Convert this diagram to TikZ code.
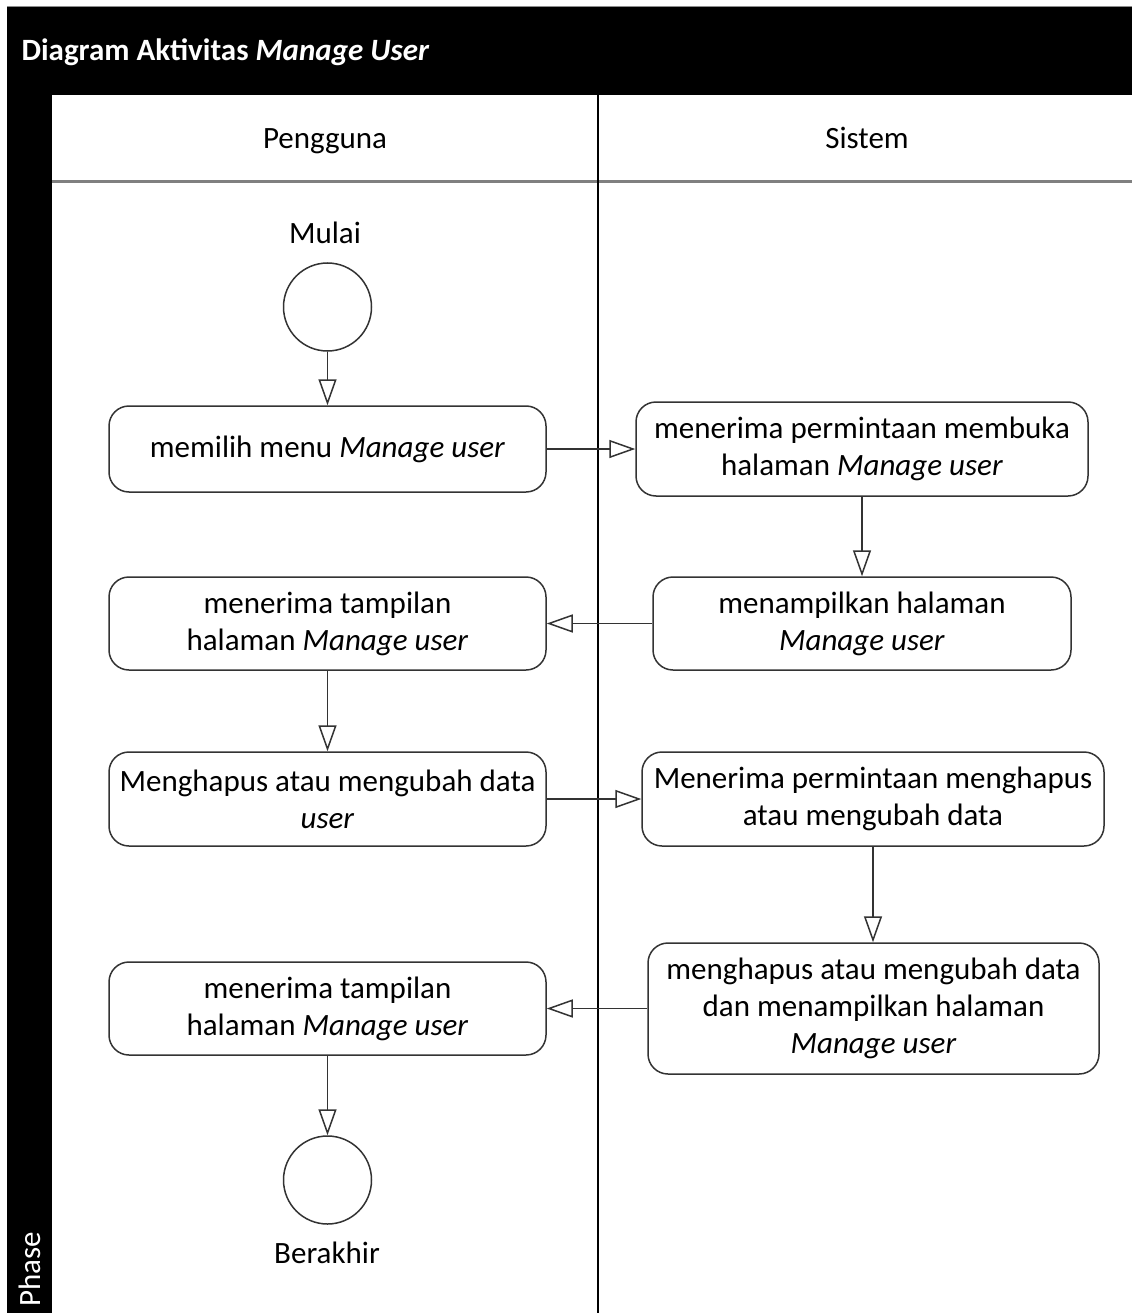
\documentclass[tikz,border=0pt]{standalone}
\usepackage{fontspec}
\setmainfont{Carlito}
\usetikzlibrary{arrows.meta}
\begin{document}
\begin{tikzpicture}[x=1pt,y=-1pt,
  txt/.style={font=\fontsize{31}{37}\selectfont},
  act/.style={draw=black!80, line width=1.5pt, rounded corners=20pt, fill=white,
    align=center, inner sep=0pt, txt},
  endpt/.style={draw=black!80, line width=1.5pt, circle, minimum size=88pt, inner sep=0pt, fill=white},
  flow/.style={draw=black!80, line width=1.5pt,
    -{Triangle[open, length=26pt, width=18pt, fill=white]}}]
  \useasboundingbox (0,0) rectangle (1132,1313);
  % frame: title bar and phase column
  \fill[black] (7,7) rectangle (1132,1313);
  \draw[black!45, line width=1pt] (7,7) -- (1132,7);
  \fill[white] (52,95) rectangle (1132,1313);
  \node[anchor=base west, text=white, font=\fontsize{31}{36}\selectfont\bfseries] (title) at (18,61)
    {Diagram Aktivitas \textit{Manage User}};
  \node[anchor=west, rotate=90, text=white, txt] (phase) at (30,1310) {Phase};
  % lane headers
  \draw[black!50, line width=3pt] (52,182) -- (1132,182);
  \draw[black, line width=2pt] (598,95) -- (598,1313);
  \node[anchor=base, txt] (lane1) at (325,149) {Pengguna};
  \node[anchor=base, txt] (lane2) at (867,149) {Sistem};
  % start and end
  \node[anchor=base, txt] (mulai) at (325,244) {Mulai};
  \node[endpt] (start) at (327.5,307) {};
  \node[endpt] (stop) at (327.5,1180) {};
  \node[anchor=base, txt] (berakhir) at (327,1263) {Berakhir};
  % activities
  \node[act, minimum width=437pt, minimum height=86pt] (a1) at (327.5,449)
    {memilih menu \textit{Manage user}};
  \node[act, minimum width=452pt, minimum height=94pt] (b1) at (862,449)
    {menerima permintaan membuka\\halaman \textit{Manage user}};
  \node[act, minimum width=418pt, minimum height=93pt] (b2) at (862,623.5)
    {menampilkan halaman\\\textit{Manage user}};
  \node[act, minimum width=437pt, minimum height=93pt] (a2) at (327.5,623.5)
    {menerima tampilan\\halaman \textit{Manage user}};
  \node[act, minimum width=437pt, minimum height=94pt] (a3) at (327.5,799)
    {Menghapus atau mengubah data\\\textit{user}};
  \node[act, minimum width=462pt, minimum height=94pt] (b3) at (873,799)
    {Menerima permintaan menghapus\\atau mengubah data};
  \node[act, minimum width=451pt, minimum height=131pt] (b4) at (873.5,1008.5)
    {menghapus atau mengubah data\\dan menampilkan halaman\\\textit{Manage user}};
  \node[act, minimum width=437pt, minimum height=93pt] (a4) at (327.5,1008.5)
    {menerima tampilan\\halaman \textit{Manage user}};
  % control flow
  \draw[flow] (start.south) -- (start.south |- a1.north);
  \draw[flow] (a1.east) -- (a1.east -| b1.west);
  \draw[flow] (b1.south) -- (b1.south |- b2.north);
  \draw[flow] (b2.west) -- (b2.west -| a2.east);
  \draw[flow] (a2.south) -- (a2.south |- a3.north);
  \draw[flow] (a3.east) -- (a3.east -| b3.west);
  \draw[flow] (b3.south) -- (b3.south |- b4.north);
  \draw[flow] (b4.west) -- (b4.west -| a4.east);
  \draw[flow] (a4.south) -- (a4.south |- stop.north);
\end{tikzpicture}
\end{document}
